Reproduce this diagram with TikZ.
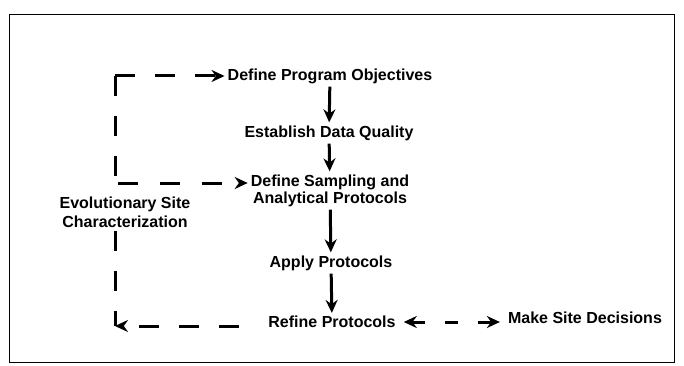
\documentclass[tikz,border=0pt]{standalone}
\usepackage{fontspec}
\setmainfont{Liberation Sans}
\usetikzlibrary{arrows.meta}
\begin{document}
\begin{tikzpicture}[x=1pt,y=-1pt,
  lbl/.style={font=\bfseries\fontsize{16}{17}\selectfont, inner sep=3pt, align=center},
  flow/.style={line width=3pt, -{Stealth[length=13pt,width=12pt]}},
  dline/.style={line width=3pt, dash pattern=on 20pt off 20pt},
  dflow/.style={flow, dash pattern=on 20pt off 20pt},
  ]
\useasboundingbox (0,0) rectangle (684,366);
\draw[line width=1pt] (9,15) rectangle (674,362);

\node[lbl] (dpo) at (330,76) {Define Program Objectives};
\node[lbl] (edq) at (329,133) {Establish Data Quality};
\node[lbl] (dsap) at (330,190.5) {Define Sampling and\\Analytical Protocols};
\node[lbl] (ap) at (331,263) {Apply Protocols};
\node[lbl] (rp) at (332,322) {Refine Protocols};
\node[lbl] (msd) at (585,318) {Make Site Decisions};
\node[lbl, font=\bfseries\fontsize{16}{19}\selectfont] (esc) at (125,212) {Evolutionary Site\\Characterization};

\coordinate (tl) at (115,76);
\coordinate (bl) at (115,326);
\coordinate (ml) at (118,183);

\draw[flow] (dpo) -- (edq);
\draw[flow] (edq) -- (dsap);
\draw[flow] (dsap) -- (ap);
\draw[flow] (ap) -- (rp);

\draw[dflow] (tl) -- (dpo.west);
\draw[dline] (tl) -- (tl |- esc.north);
\draw[dline] (bl |- esc.south) -- (bl);
\draw[flow, dash pattern=on 20pt off 22pt] (ml) -- (ml -| dsap.west);
\draw[dflow, shorten <=26pt] (rp.west |- bl) -- (bl);
\draw[line width=3pt, {Stealth[length=13pt,width=12pt]}-{Stealth[length=13pt,width=12pt]}, dash pattern=on 13pt off 20pt, shorten <=5pt, shorten >=5pt] (rp.east) -- (msd.west |- rp.east);
\end{tikzpicture}
\end{document}
